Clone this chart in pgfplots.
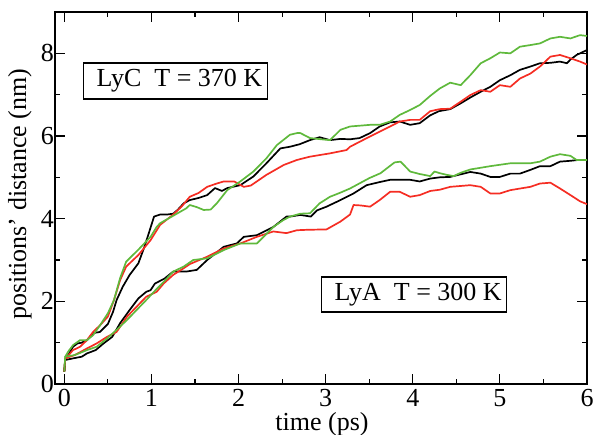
\documentclass[border=0pt]{standalone}
\usepackage{fontspec}
\setmainfont{Liberation Serif}
\usepackage{pgfplots}
\pgfplotsset{compat=1.18}
\usepackage{pgfplotstable}

\definecolor{cred}{RGB}{245,45,35}
\definecolor{cgreen}{RGB}{95,185,60}

% LyC, T = 370 K
\pgfplotstableread{
x y
0 0.3
0.01 0.6
0.05 0.72
0.1 0.9
0.15 0.98
0.2 1.0
0.26 1.06
0.33 1.23
0.41 1.26
0.5 1.45
0.56 1.75
0.6 2.03
0.67 2.35
0.75 2.64
0.85 2.92
0.92 3.32
0.97 3.65
1.03 4.05
1.1 4.1
1.18 4.1
1.25 4.12
1.3 4.21
1.37 4.37
1.44 4.45
1.54 4.5
1.64 4.57
1.73 4.74
1.81 4.67
1.87 4.74
2.02 4.81
2.17 5.02
2.32 5.34
2.48 5.7
2.59 5.74
2.7 5.8
2.82 5.9
2.93 5.97
3.05 5.9
3.17 5.93
3.28 5.92
3.39 5.95
3.51 6.07
3.62 6.23
3.74 6.33
3.85 6.35
3.97 6.27
4.08 6.31
4.2 6.5
4.3 6.6
4.43 6.65
4.55 6.79
4.66 6.93
4.78 7.07
4.89 7.19
5.0 7.35
5.12 7.47
5.23 7.6
5.35 7.68
5.46 7.76
5.58 7.77
5.69 7.8
5.77 7.76
5.81 7.85
5.88 7.96
6.0 8.08
}\cblack
\pgfplotstableread{
x y
0 0.3
0.01 0.58
0.05 0.7
0.1 0.82
0.18 0.9
0.26 1.06
0.33 1.26
0.41 1.42
0.5 1.63
0.57 2.03
0.64 2.51
0.71 2.84
0.85 3.12
0.99 3.48
1.1 3.85
1.25 4.1
1.35 4.3
1.44 4.53
1.54 4.62
1.64 4.77
1.75 4.85
1.83 4.9
1.95 4.9
2.06 4.77
2.14 4.8
2.32 5.06
2.52 5.3
2.67 5.42
2.82 5.5
3.05 5.58
3.24 5.66
3.28 5.74
3.51 5.99
3.74 6.23
3.85 6.35
3.97 6.39
4.08 6.39
4.2 6.6
4.31 6.65
4.43 6.66
4.55 6.83
4.66 6.99
4.78 7.11
4.89 7.07
5.0 7.23
5.12 7.19
5.23 7.39
5.35 7.51
5.46 7.68
5.58 7.92
5.69 7.96
5.81 7.88
5.92 7.8
6.0 7.73
}\cred
\pgfplotstableread{
x y
0 0.3
0.01 0.66
0.05 0.8
0.1 0.94
0.18 1.06
0.26 1.06
0.33 1.18
0.41 1.42
0.5 1.71
0.57 2.03
0.64 2.56
0.71 2.96
0.85 3.25
0.99 3.56
1.06 3.8
1.1 3.89
1.25 4.07
1.4 4.25
1.44 4.33
1.52 4.28
1.6 4.21
1.68 4.22
1.75 4.37
1.87 4.69
2.02 4.9
2.17 5.14
2.32 5.46
2.44 5.78
2.59 6.03
2.67 6.07
2.71 6.07
2.82 5.95
2.95 5.92
3.05 5.9
3.17 6.15
3.28 6.23
3.51 6.27
3.62 6.27
3.74 6.35
3.85 6.51
3.97 6.63
4.08 6.75
4.2 6.97
4.31 7.15
4.43 7.29
4.55 7.23
4.66 7.47
4.78 7.76
4.89 7.88
5.0 8.02
5.12 8.0
5.23 8.16
5.35 8.2
5.46 8.24
5.58 8.36
5.69 8.4
5.81 8.36
5.92 8.44
6.0 8.42
}\cgreen

% LyA, T = 300 K
\pgfplotstableread{
x y
0 0.3
0.01 0.58
0.1 0.62
0.2 0.66
0.26 0.74
0.36 0.82
0.45 0.98
0.55 1.14
0.64 1.47
0.75 1.79
0.85 2.07
0.94 2.23
0.99 2.27
1.04 2.43
1.15 2.55
1.25 2.72
1.4 2.72
1.52 2.76
1.64 3.0
1.73 3.15
1.83 3.32
1.98 3.4
2.06 3.56
2.21 3.6
2.4 3.8
2.55 4.05
2.59 4.05
2.71 4.09
2.83 4.05
2.9 4.2
3.01 4.29
3.17 4.45
3.32 4.61
3.47 4.81
3.63 4.89
3.74 4.94
3.82 4.94
3.97 4.94
4.08 4.9
4.2 4.97
4.31 5.0
4.43 5.01
4.66 5.13
4.78 5.09
4.89 5.01
5.0 5.01
5.12 5.09
5.23 5.09
5.35 5.18
5.46 5.27
5.58 5.27
5.69 5.38
5.81 5.4
5.9 5.42
}\ablack
\pgfplotstableread{
x y
0 0.3
0.01 0.62
0.12 0.7
0.26 0.86
0.37 0.98
0.49 1.14
0.6 1.26
0.72 1.63
0.83 1.87
0.94 2.11
1.06 2.23
1.14 2.43
1.25 2.64
1.37 2.8
1.44 2.9
1.64 3.08
1.83 3.28
2.02 3.4
2.21 3.56
2.4 3.69
2.55 3.65
2.67 3.72
2.78 3.73
3.01 3.74
3.17 3.93
3.28 4.1
3.32 4.33
3.4 4.32
3.51 4.29
3.62 4.45
3.74 4.65
3.85 4.65
3.97 4.53
4.08 4.57
4.2 4.67
4.31 4.7
4.43 4.77
4.66 4.81
4.78 4.77
4.89 4.61
5.0 4.61
5.12 4.69
5.35 4.77
5.46 4.85
5.58 4.87
5.69 4.73
5.81 4.57
5.92 4.42
6.0 4.35
}\ared
\pgfplotstableread{
x y
0 0.3
0.01 0.66
0.12 0.7
0.26 0.82
0.37 0.9
0.49 1.1
0.6 1.31
0.72 1.55
0.83 1.79
0.94 2.03
1.06 2.3
1.14 2.47
1.25 2.72
1.37 2.84
1.48 3.0
1.64 3.04
1.83 3.24
2.02 3.4
2.21 3.4
2.4 3.8
2.51 3.96
2.59 4.05
2.71 4.12
2.82 4.13
2.93 4.37
3.05 4.53
3.17 4.63
3.28 4.73
3.5 4.98
3.63 5.1
3.79 5.36
3.86 5.38
3.97 5.14
4.08 5.08
4.2 5.03
4.25 5.14
4.31 5.1
4.39 5.06
4.47 5.03
4.55 5.11
4.66 5.19
4.89 5.27
5.12 5.34
5.35 5.34
5.46 5.38
5.58 5.5
5.69 5.56
5.81 5.52
5.88 5.42
6.0 5.42
}\agreen

\begin{document}
\begin{tikzpicture}
\begin{axis}[
    at={(55pt,51pt)}, anchor=south west,
    scale only axis,
    width=532pt, height=372pt,
    xmin=-0.107, xmax=6,
    ymin=0, ymax=9,
    xtick={0,1,2,3,4,5,6},
    ytick={0,2,4,6,8},
    minor x tick num=1,
    minor y tick num=1,
    tick align=inside,
    major tick length=10pt,
    minor tick length=5pt,
    every tick/.style={line width=1.2pt, black},
    axis line style={line width=1.3pt},
    /pgf/number format/assume math mode=true,
    ticklabel style={font=\fontsize{26}{30}\selectfont},
    yticklabel style={inner xsep=1pt},
    xticklabel style={inner ysep=5pt},
    label style={font=\fontsize{26}{30}\selectfont},
    xlabel={time (ps)},
    ylabel={positions' distance (nm)},
    xlabel style={at={(axis description cs:0.502,-0.109)}, anchor=center},
    ylabel style={at={(axis description cs:-0.066,0.51)}, anchor=center},
    every axis plot/.append style={line width=1.7pt, line join=round},
    clip=true,
]
\addplot[black] table {\cblack};
\addplot[cred] table {\cred};
\addplot[cgreen] table {\cgreen};
\addplot[black] table {\ablack};
\addplot[cred] table {\ared};
\addplot[cgreen] table {\agreen};

\node[draw, line width=1.2pt, fill=white, anchor=west, minimum height=36pt,
      inner xsep=5pt, font=\fontsize{26}{30}\selectfont]
  at (axis cs:0.215,7.33) {\hspace{8pt}LyC\ \ T = 370 K};
\node[draw, line width=1.2pt, fill=white, anchor=west, minimum height=35pt,
      inner xsep=5pt, font=\fontsize{26}{30}\selectfont]
  at (axis cs:2.948,2.165) {\hspace{8pt}LyA\ \ T = 300 K};
\end{axis}
\pgfresetboundingbox
\useasboundingbox (0,0) rectangle (595pt,435pt);
\end{tikzpicture}
\end{document}
